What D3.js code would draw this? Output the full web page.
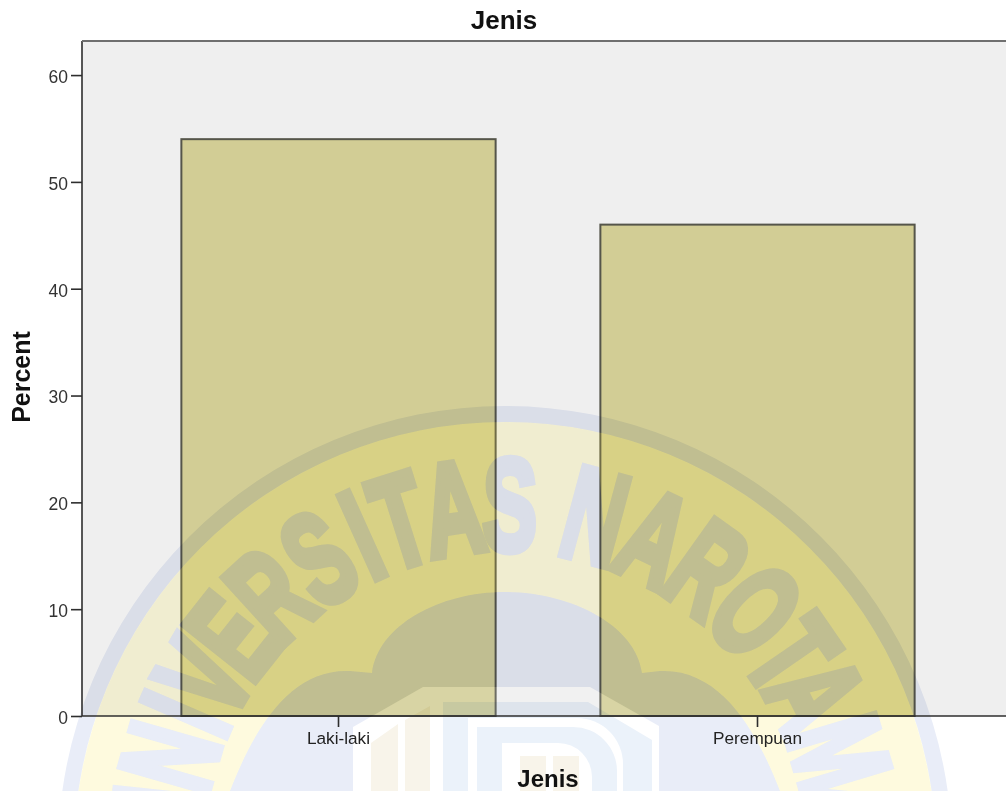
<!DOCTYPE html>
<html><head><meta charset="utf-8">
<script src="https://cdn.jsdelivr.net/npm/d3@7"></script>
<style>
html,body{margin:0;padding:0;background:#fff;overflow:hidden}
svg{display:block;font-family:"Liberation Sans",Arial,sans-serif}
</style></head><body>
<svg id="c" width="1006" height="791"></svg>
<script>
const categories = ["Laki-laki", "Perempuan"];
const percents = [54, 46];
const yTicks = [0, 10, 20, 30, 40, 50, 60];
const chartTitle = "Jenis";
const xTitle = "Jenis";
const yTitle = "Percent";
const watermark = "UNIVERSITASNAROTAMA";
const letterAngles = [-84, -74, -66.5, -59.8, -51.6, -42.3, -32.3, -24.2, -17.5, -8.6, 0.8, 15, 25.4, 35.5, 46, 55.4, 63, 73.4, 83];

const W = 1006, H = 791;
const plot = {l: 82, r: 1010, t: 41, b: 716};
const svg = d3.select("#c");
const y = d3.scaleLinear().domain([0, 63.19]).range([plot.b, plot.t]);
const x = d3.scaleBand().domain(categories).range([128.5, 966.5]).paddingInner(0.25).paddingOuter(0.125);

svg.append("rect").attr("width", W).attr("height", H).attr("fill", "#fff");
svg.append("rect").attr("x", plot.l).attr("y", plot.t).attr("width", plot.r - plot.l).attr("height", plot.b - plot.t).attr("fill", "#efefef");
svg.append("g").selectAll("rect").data(percents).join("rect")
  .attr("x", (d, i) => x(categories[i]) + 0.5).attr("width", x.bandwidth())
  .attr("y", d => y(d)).attr("height", d => plot.b - y(d))
  .attr("fill", "#d2cd95").attr("stroke", "#55554a").attr("stroke-width", 2);

/* ---- watermark ---- */
const cx = 505, cy = 853, rO = 447, rI = 431, rBase = 303;
const defs = svg.append("defs");

const cloud = d3.path();
cloud.moveTo(230, 791);
cloud.bezierCurveTo(250, 740, 285, 668, 350, 671);
cloud.lineTo(372, 673);
cloud.bezierCurveTo(378, 625, 440, 592, 505, 592);
cloud.bezierCurveTo(570, 592, 636, 625, 642, 673);
cloud.lineTo(660, 671);
cloud.bezierCurveTo(725, 668, 760, 740, 780, 791);
cloud.closePath();
const shieldPts = [[353,791],[353,727],[423,687],[590,687],[659,726],[659,791]];
const line = d3.line();

const mask = defs.append("mask").attr("id", "yMask").attr("maskUnits", "userSpaceOnUse")
  .attr("x", 0).attr("y", 0).attr("width", W).attr("height", H);
mask.append("rect").attr("width", W).attr("height", H).attr("fill", "#000");
mask.append("circle").attr("cx", cx).attr("cy", cy).attr("r", rI).attr("fill", "#fff");
mask.append("use").attr("href", "#wmLetters").attr("fill", "#000").attr("stroke", "#000");
mask.append("path").attr("d", cloud.toString()).attr("fill", "#000");
mask.append("path").attr("d", line(shieldPts)).attr("fill", "#000");

svg.append("rect").attr("width", W).attr("height", H).attr("fill", "#f9e638").attr("opacity", 0.16).attr("mask", "url(#yMask)");

const blue = svg.append("g").style("mix-blend-mode", "multiply");
const ring = d3.arc()({innerRadius: rI, outerRadius: rO, startAngle: 0, endAngle: 2 * Math.PI});
blue.append("path").attr("transform", `translate(${cx},${cy})`).attr("d", ring).attr("fill", "#e9edf8");
const cloudMask = defs.append("mask").attr("id", "cMask").attr("maskUnits", "userSpaceOnUse")
  .attr("x", 0).attr("y", 0).attr("width", W).attr("height", H);
cloudMask.append("rect").attr("width", W).attr("height", H).attr("fill", "#fff");
cloudMask.append("path").attr("d", line(shieldPts)).attr("fill", "#000");
blue.append("path").attr("d", cloud.toString()).attr("fill", "#e9edf8").attr("mask", "url(#cMask)");

const blueText = blue.append("g").attr("fill", "#e9edf8").attr("stroke", "#e9edf8");
blueText.append("g").attr("id", "wmLetters").attr("stroke-linejoin", "miter")
  .selectAll("text").data(watermark.split("")).join("text")
  .attr("text-anchor", "middle")
  .attr("transform", (d, i) => `translate(${cx},${cy}) rotate(${letterAngles[i]}) translate(0,${-rBase}) scale(0.62,1)`)
  .style("font-weight", 700).style("font-size", "131px").style("stroke-width", "8px")
  .text(d => d);

/* shield interior */
svg.append("path").attr("d", line(shieldPts)).attr("fill", "#fff").attr("opacity", 0.14);
const lightBlue = "#ebf2fa", beige = "#f8f4ea";
const dOuter = [[443,791],[443,702],[588,702],[652,740],[652,791]];
svg.append("path").attr("d", line(dOuter)).attr("fill", lightBlue).style("mix-blend-mode", "multiply");
const dShape = (l, t, r, cr) => {
  const p = d3.path();
  p.moveTo(l, 791); p.lineTo(l, t); p.lineTo(r - cr, t);
  p.arcTo(r, t, r, t + cr, cr); p.lineTo(r, 791); p.closePath();
  return p.toString();
};
svg.append("path").attr("d", dShape(468, 718, 623, 46)).attr("fill", "#fff");
svg.append("path").attr("d", dShape(477, 727, 617, 44)).attr("fill", lightBlue);
svg.append("path").attr("d", dShape(502, 743, 592, 34)).attr("fill", "#fff");
const beigeBars = [[[371,791],[371,743],[398,724],[398,791]], [[405,791],[405,720],[430,706],[430,791]],
                   [[520,791],[520,756],[546,756],[546,791]], [[553,791],[553,756],[579,756],[579,791]]];
svg.append("g").selectAll("path").data(beigeBars).join("path").attr("d", d => line(d)).attr("fill", beige).style("mix-blend-mode", "multiply");

/* ---- axes ---- */
const gy = svg.append("g").attr("transform", `translate(${plot.l},0)`)
  .call(d3.axisLeft(y).tickValues(yTicks).tickSize(11).tickPadding(3).tickFormat(d3.format("d")));
const gx = svg.append("g").attr("transform", `translate(0,${plot.b})`)
  .call(d3.axisBottom(x).tickSize(11).tickPadding(5));
gy.select(".domain").attr("stroke", "#2e2e2e").attr("stroke-width", 1.6).attr("d", `M0,${plot.b}V${plot.t}`);
gx.select(".domain").attr("stroke", "#2e2e2e").attr("stroke-width", 1.6).attr("d", `M${plot.l},0H${plot.r}`);
svg.selectAll(".tick line").attr("stroke", "#2e2e2e").attr("stroke-width", 1.6);
gy.selectAll(".tick text").style("font-size", "17.5px").attr("dy", "0.42em").attr("fill", "#333");
gx.selectAll(".tick text").style("font-size", "17.2px").attr("fill", "#222");
gx.selectAll(".tick").attr("transform", d => `translate(${x(d) + x.bandwidth() / 2 + 0.5},0)`);
svg.append("line").attr("x1", plot.l).attr("x2", plot.r).attr("y1", plot.t).attr("y2", plot.t).attr("stroke", "#6f6f6f").attr("stroke-width", 2);

svg.append("text").attr("x", 504).attr("y", 29).attr("text-anchor", "middle").attr("fill", "#111").style("font-weight", 700).style("font-size", "26px").text(chartTitle);
svg.append("text").attr("x", 548).attr("y", 787).attr("text-anchor", "middle").attr("fill", "#111").style("font-weight", 700).style("font-size", "24px").text(xTitle);
svg.append("text").attr("transform", "translate(29.5,377) rotate(-90)").attr("text-anchor", "middle").attr("fill", "#111").style("font-weight", 700).style("font-size", "25px").text(yTitle);
</script>
</body></html>
